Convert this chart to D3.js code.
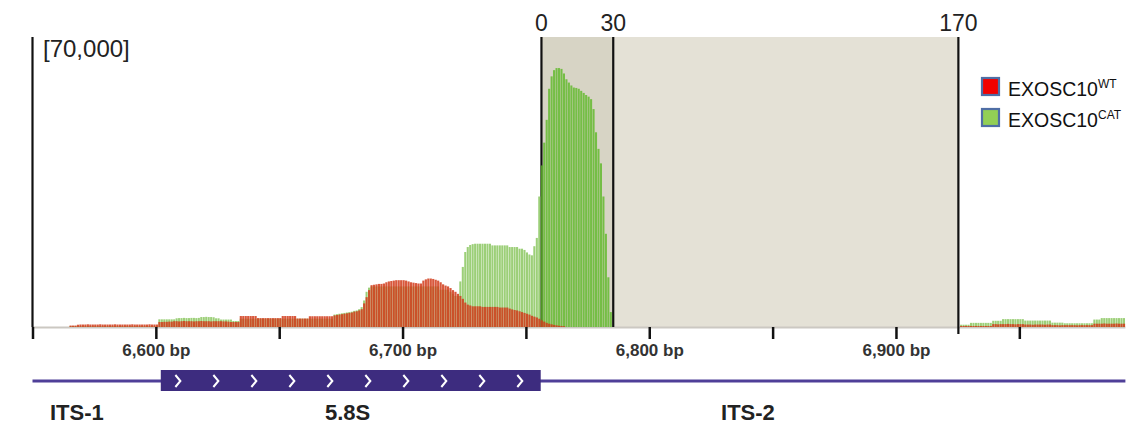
<!DOCTYPE html>
<html><head><meta charset="utf-8">
<script src="https://cdn.jsdelivr.net/npm/d3@7"></script>
<style>
body{margin:0;background:#fff;}
svg{display:block;font-family:"Liberation Sans",Arial,sans-serif;}
</style></head><body>
<svg id="chart" width="1137" height="427"></svg>
<script>
// ---------------- DATA (coverage in thousands of reads, one value per base) ----------------
const viewStart = 6550, viewEnd = 6993;
const yMax = 70000;

const wtLeftStart = 6550;
const wtLeft = [
0,0,0,0,0,0,0,0,0,0,0,0,0,0,0,
0.35,0.35,0.35,
0.55,0.6,0.6,0.6,0.65,0.6,0.6,0.6,0.6,0.65,0.6,
0.6,0.6,0.6,0.6,0.65,0.6,0.6,0.6,0.6,0.6,0.6,
0.65,0.6,0.6,0.6,0.6,0.6,0.6,0.65,0.6,0.6,0.6,
1.2,1.2,1.25,1.25,1.3,1.3,
1.4,1.4,1.35,1.4,1.45,1.4,1.4,1.4,1.35,1.4,
1.4,1.45,1.4,1.4,1.4,1.35,1.4,1.4,1.4,1.4,
1.35,1.35,1.3,
1.2,1.2,1.2,1.2,
2.65,2.65,2.65,2.65,2.65,2.65,2.65,
2.15,2.15,2.15,2.15,2.15,2.15,2.15,2.15,2.15,2.15,
2.65,2.65,2.65,2.65,2.65,2.65,
2.05,2.05,2.05,2.05,2.05,
2.6,2.6,2.6,2.6,2.6,2.6,2.6,2.6,2.6,2.6,
2.8,2.9,3.0,3.1,3.2, 3.3,3.4,3.5,3.7,3.8, 4.0,4.3,5.7,7.2,8.9,
10.1,10.2,10.3,10.4,10.4, 10.5,10.8,11.0,11.1,11.2, 11.3,11.3,11.3,11.3,11.2,
11.0,10.8,10.7,10.6,10.5, 10.5,11.2,11.5,11.7,11.7, 11.6,11.4,11.2,10.8,10.3,
10.0,9.8,9.4,8.9,8.5, 8.0,7.5,6.8,5.9,5.4, 5.2,5.0,5.0,5.0,5.0,
4.85,4.85,4.85,4.85,4.85,4.85,4.85, 4.7,4.7,4.7,4.7,
4.45,4.25,4.1,4.0,3.8, 3.6,3.4,3.2,3.0,2.7, 2.5,2.3,2.0,1.6,1.3,
1.0,0.8,0.65,0.5,0.4, 0.3,0.25,0.2
];

const wtRightStart = 6926;
const wtRight = [
0.25,0.25,0.25,0.25,0.25,0.25,0.25,0.25,0.25,0.25,0.25,0.25,0.25,
0.7,0.7,0.65,0.7,0.7,0.7,0.75,0.7,0.7,0.65,0.7,0.7,0.7,
0.6,0.6,0.6,0.55,0.6,0.6,0.6,0.6,0.55,0.6,0.6,
0.45,0.45,0.45,0.4,0.45,0.45,0.45,0.45,0.45,0.45,0.4,0.45,0.45,0.45,0.45,0.45,0.45,
0.8,0.8,0.8,0.8,0.85,0.8,0.8,0.8,0.8,0.85,0.8,0.8,0.8
];

const catLeftStart = 6550;
const catLeft = [
0,0,0,0,0,0,0,0,0,0,0,0,0,0,0,
0.2,0.2,0.2,0.2,0.2,0.2,0.2,0.2,0.2,0.2,0.2,0.2,0.2,0.2,0.2,0.2,0.2,0.2,
0.2,0.2,0.2,0.2,0.2,0.2,0.2,0.2,0.2,0.2,0.2,0.2,0.2,0.2,0.2,0.2,0.2,0.2,
1.85,1.85,1.85,1.85,1.85,1.85,1.85,
2.1,2.15,2.15,2.2,2.15,2.15,2.2,2.2,2.15,2.2,
2.4,2.4,2.45,2.4,2.4,2.35,
2.1,2.1,
1.8,1.8,1.8,1.8,1.8,
1.45,1.45,1.45,
2.0,2.0,2.0,2.0,2.0,2.0,2.0,2.0,2.0,2.0,2.0,2.0,2.0,2.0,2.0,2.0,2.0,2.0,2.0,
2.0,2.0,2.0,2.0,2.0,2.0,2.0,2.0,2.0,2.0,2.0,2.0,2.0,2.0,2.0,2.0,2.0,2.0,2.0,
3.0,3.1,3.2,3.3,3.4,3.5,3.6,3.7,3.9,4.0,4.3,4.8,6.4,8.5,9.5,
9.8,9.8,9.8,9.8,9.8,9.8,9.8,9.8,9.8,9.8,9.8,9.8,9.8,9.8,
9.8,9.8,9.8,9.8,9.8,9.8,9.8,9.8,9.8,9.8,9.8,9.8,9.8,9.8,
9.0,9.0,9.0,9.0,
8.5,8.0,7.5,7.5,
11,14.5,18.1,19.3,19.8,20.0,
20.1,20.1,20.1,20.1,20.1,20.1,20.1,
19.7,19.7,19.7,19.7,19.7,19.7,19.7,
19.3,19.3,19.3,19.3,
18.9,18.9,18.6,18.0,17.5,17.3,19.5,21.5,31.5,
39.0,44.5,50.0,57.5,60.5,62.0,62.5,62.5,62.3,61.2,
59.8,59.0,58.3,57.8,57.7,57.5,57.0,56.5,56.0,55.6,
55.0,52.6,47.0,43.0,39.5,31.5,22.5,12.0,3.6
];

const catRightStart = 6926;
const catRight = [
0.55,0.55,0.55,0.55,
1.0,1.0,1.0,1.0,1.0,1.0,1.0,1.0,1.0,
1.5,1.5,1.5,1.5,
1.9,1.9,1.9,1.9,1.9,1.9,1.9,1.9,1.9,
1.55,1.55,1.55,1.55,1.55,1.55,1.55,1.55,1.55,1.55,1.55,
1.05,1.05,1.05,1.05,1.05,
0.9,0.9,0.9,0.9,0.9,0.9,0.9,0.9,0.9,0.9,0.9,0.9,
1.8,1.8,1.8,
2.15,2.15,2.15,2.15,2.15,2.15,2.15,2.15,2.15,2.15
];

const markerPos = [6756.3, 6785.4, 6925.3];
const markerLabels = ["0", "30", "170"];
const axisTicks = [6550, 6600, 6650, 6700, 6750, 6800, 6850, 6900, 6950];
const geneStart = 6602, geneEnd = 6756;
const regionNames = ["ITS-1", "5.8S", "ITS-2"];
const regionCenters = [6568, 6677.7, 6840];
const legendNames = ["EXOSC10", "EXOSC10"];
const legendSups = ["WT", "CAT"];
const legendColors = ["#f20000", "#92cf55"];

// ---------------- DRAW ----------------
const svg = d3.select("#chart");
const x = d3.scaleLinear().domain([viewStart, viewEnd]).range([32.5, 1125.4]);
const y = d3.scaleLinear().domain([0, yMax]).range([327, 37]);
const expand = (start, vals) => vals.map((v, i) => ({bp: start + i, v: v * 1000}));
const wt = expand(wtLeftStart, wtLeft).concat(expand(wtRightStart, wtRight));
const cat = expand(catLeftStart, catLeft).concat(expand(catRightStart, catRight));

// highlight regions
svg.append("rect").attr("x", x(markerPos[0])).attr("y", y(yMax))
  .attr("width", x(markerPos[1]) - x(markerPos[0])).attr("height", y(0) - y(yMax)).attr("fill", "#d7d4c5");
svg.append("rect").attr("x", x(markerPos[1])).attr("y", y(yMax))
  .attr("width", x(markerPos[2]) - x(markerPos[1])).attr("height", y(0) - y(yMax)).attr("fill", "#e4e1d6");

// baseline
svg.append("line").attr("x1", x(viewStart)).attr("x2", x(viewEnd)).attr("y1", y(0) + 0.5).attr("y2", y(0) + 0.5)
  .attr("stroke", "#cbc8c2").attr("stroke-width", 2);

// marker lines (under bars)
svg.append("g").selectAll("line").data(markerPos).join("line")
  .attr("x1", d => x(d)).attr("x2", d => x(d)).attr("y1", y(yMax))
  .attr("y2", (d, i) => i === 2 ? y(0) + 7 : y(0))
  .attr("stroke", "#111").attr("stroke-width", 2.2);

// left data-range line
svg.append("line").attr("x1", x(viewStart)).attr("x2", x(viewStart)).attr("y1", y(yMax)).attr("y2", y(0))
  .attr("stroke", "#111").attr("stroke-width", 2.2);

const bw = x(viewStart + 1) - x(viewStart);
const inHi = bp => bp >= Math.floor(markerPos[0]) && bp < markerPos[1];
svg.append("g").selectAll("rect").data(cat.filter(d => d.v > 0)).join("rect")
  .attr("x", d => x(d.bp)).attr("width", bw * 0.84)
  .attr("y", d => y(d.v)).attr("height", d => y(0) - y(d.v))
  .attr("fill", d => inHi(d.bp) ? "#5db826" : "#9ccf78")
  .attr("fill-opacity", d => inHi(d.bp) ? 0.8 : 1);
svg.append("g").selectAll("rect").data(wt.filter(d => d.v > 0)).join("rect")
  .attr("x", d => x(d.bp)).attr("width", bw * 0.88)
  .attr("y", d => y(d.v)).attr("height", d => y(0) - y(d.v))
  .attr("fill", "#d23c1c").attr("fill-opacity", 0.86);

// marker labels
svg.append("g").selectAll("text").data(markerLabels).join("text")
  .attr("x", (d, i) => x(markerPos[i])).attr("y", 31).attr("text-anchor", "middle")
  .attr("font-size", 23).attr("fill", "#222").text(d => d);

// data range label
svg.append("text").attr("x", 43).attr("y", 57).attr("font-size", 24).attr("fill", "#222")
  .text("[" + d3.format(",")(yMax) + "]");

// axis
const axis = d3.axisBottom(x).tickValues(axisTicks).tickSize(12).tickPadding(5)
  .tickFormat(d => d % 100 === 0 ? d3.format(",")(d) + " bp" : "");
const ag = svg.append("g").attr("transform", `translate(0,${y(0)})`).call(axis);
ag.select(".domain").remove();
ag.selectAll(".tick line").attr("stroke", "#111").attr("stroke-width", 2.5);
ag.selectAll(".tick text").attr("font-size", 17).attr("font-weight", "bold").attr("fill", "#333")
  .attr("font-family", "Liberation Sans, Arial, sans-serif");

// gene track
const gy = 381;
svg.append("line").attr("x1", x(viewStart)).attr("x2", x(viewEnd)).attr("y1", gy).attr("y2", gy)
  .attr("stroke", "#4f3f98").attr("stroke-width", 3);
svg.append("rect").attr("x", x(geneStart)).attr("y", gy - 11).attr("width", x(geneEnd) - x(geneStart)).attr("height", 21)
  .attr("fill", "#3d2c7f");
const nChev = 10, span = x(geneEnd) - x(geneStart), step = span / nChev;
svg.append("g").selectAll("path").data(d3.range(nChev)).join("path")
  .attr("d", i => { const cx = x(geneStart) + step * (i + 0.45); return `M${cx - 2.5},${gy - 6}L${cx + 2.5},${gy}L${cx - 2.5},${gy + 6}`; })
  .attr("fill", "none").attr("stroke", "#fff").attr("stroke-width", 2);

svg.append("g").selectAll("text").data(regionNames).join("text")
  .attr("x", (d, i) => x(regionCenters[i])).attr("y", 420).attr("text-anchor", "middle")
  .attr("font-size", 22).attr("font-weight", "bold").attr("fill", "#222").text(d => d);

// legend
const lg = svg.append("g");
legendNames.forEach((n, i) => {
  const ly = 78 + i * 31;
  lg.append("rect").attr("x", 982).attr("y", ly).attr("width", 17).attr("height", 17)
    .attr("fill", legendColors[i]).attr("stroke", "#4f6ea5").attr("stroke-width", 2.2);
  const t = lg.append("text").attr("x", 1008).attr("y", ly + 17.5).attr("font-size", 19.5).attr("fill", "#111");
  t.append("tspan").text(n);
  t.append("tspan").attr("font-size", 12).attr("dy", -8).text(legendSups[i]);
});
</script>
</body></html>
